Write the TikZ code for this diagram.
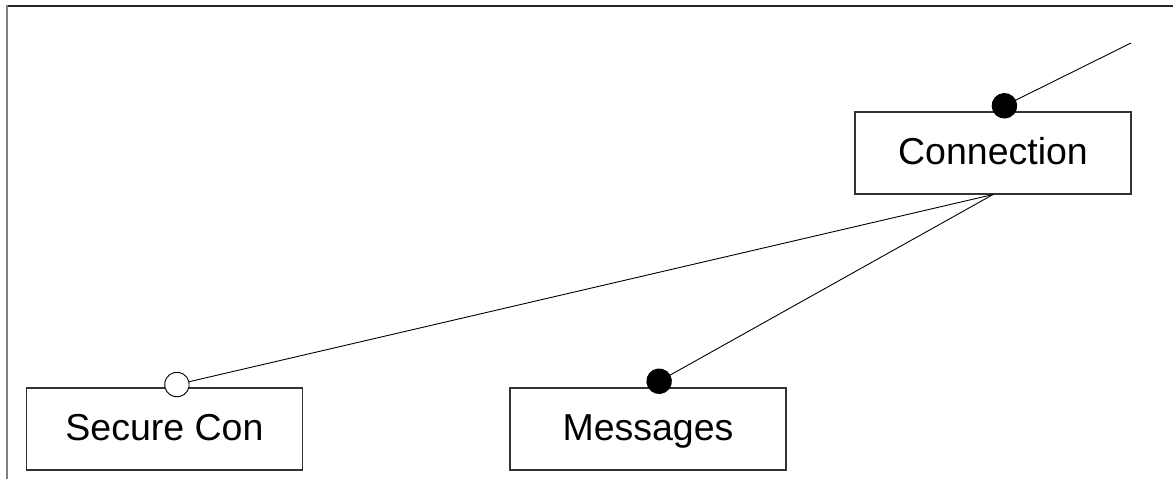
\documentclass[tikz,border=0pt]{standalone}
\usepackage{fontspec}
\setmainfont{Liberation Sans}
\usetikzlibrary{arrows.meta}
\begin{document}
\begin{tikzpicture}[x=1pt,y=1pt,
  box/.style={draw=black!80,line width=1.1pt,minimum width=276pt,minimum height=82pt,inner sep=0pt,
    text height=27pt,text depth=4pt,
    font=\fontsize{37.5}{44}\selectfont},
  edge/.style={draw=black,line width=0.9pt},
  solidend/.style={-{Circle[length=25.5pt,width=25.5pt]}},
  openend/.style={-{Circle[open,fill=white,length=25.5pt,width=25.5pt]}}]
\useasboundingbox (0,0) rectangle (1173,479);
% frame lines
\draw[black!85,line width=1.5pt] (7,473) -- (1173,473);
\draw[black!50,line width=2pt] (7,474) -- (7,0);
% nodes
\node[box] (conn) at (993,326) {Connection};
\node[box] (sec) at (164.5,50) {Secure Con};
\node[box] (msg) at (648,50) {Messages};
\coordinate (free) at (1131,436);
% connectors
\draw[edge,solidend] (free) -- (conn.north);
\draw[edge,openend] (conn.south) -- (sec.north);
\draw[edge,solidend] (conn.south) -- (msg.north);
\end{tikzpicture}
\end{document}
